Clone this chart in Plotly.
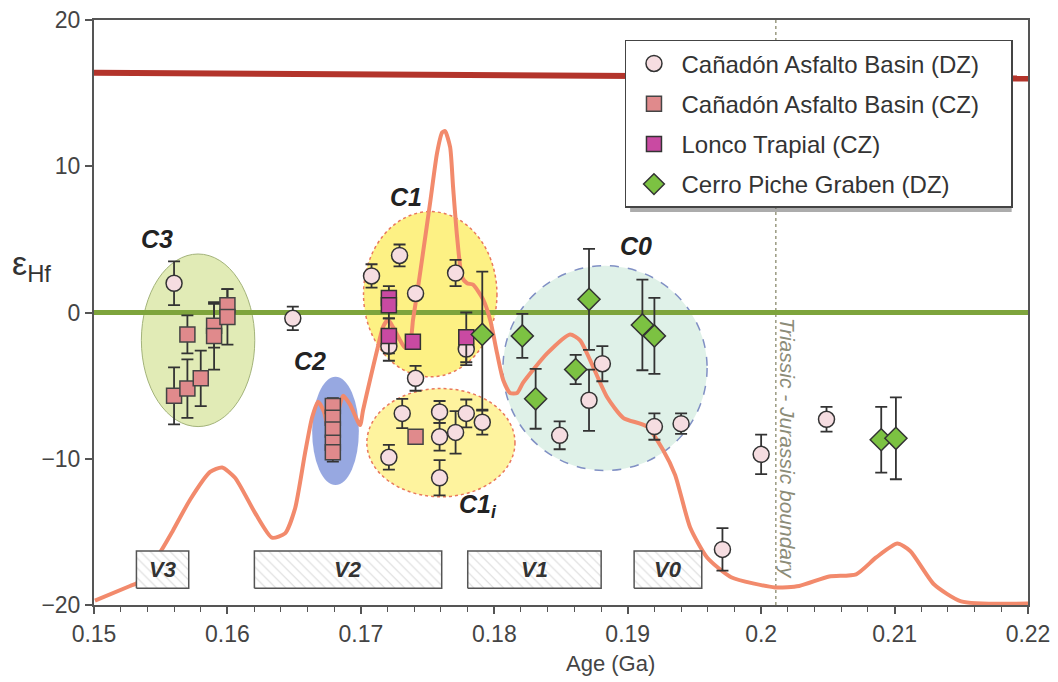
import plotly.graph_objects as go

# ---------------- data ----------------
# KDE (probability density, scaled to epsilon-Hf axis)
kde_age = [0.15007, 0.1527, 0.15322, 0.15495, 0.15592, 0.1572, 0.1587, 0.1596, 0.16057, 0.16207,
           0.16334, 0.16432, 0.16507, 0.16582, 0.16634, 0.16679, 0.16724, 0.16769, 0.16814, 0.16867,
           0.16919, 0.16994, 0.17016, 0.17069, 0.17121, 0.17166, 0.17204, 0.17241, 0.17294, 0.17331,
           0.17369, 0.17391, 0.17429, 0.17466, 0.17519, 0.17571, 0.17609, 0.17631, 0.17669, 0.17691,
           0.17721, 0.17759, 0.17796, 0.17841, 0.17916, 0.17969, 0.18021, 0.18066, 0.18118, 0.18171,
           0.18216, 0.18396, 0.18568, 0.18643, 0.18718, 0.18846, 0.18966, 0.19145, 0.19265, 0.19355,
           0.19468, 0.19595, 0.19775, 0.20105, 0.20285, 0.2051, 0.20712, 0.20862, 0.2102, 0.21117,
           0.21297, 0.21499, 0.22]
kde_val = [-19.7, -18.7, -18.5, -16.4, -14.9, -12.8, -10.9, -10.6, -11.3, -13.7,
           -15.4, -15.1, -13.4, -9.6, -7.2, -6.1, -6.8, -8.4, -7.4, -5.7,
           -6.3, -7.7, -6.7, -4.6, -2.6, -1.0, -0.5, -1.0, -1.9, -2.4,
           -2.1, -0.5, 1.75, 4.1, 7.5, 10.9, 12.3, 12.4, 11.3, 8.6,
           5.2, 2.4, 2.0, 1.9, 0.9, -0.5, -2.8, -4.6, -5.5, -5.5,
           -4.8, -2.8, -1.5, -1.9, -3.25, -5.8, -7.2, -7.8, -9.4, -11.1,
           -14.7, -16.75, -18.1, -18.8, -18.7, -18.05, -17.9, -16.75, -15.8, -16.3,
           -18.6, -19.75, -19.9]

# Depleted mantle and CHUR reference lines
dm_age = [0.15, 0.22]
dm_val = [16.4, 16.0]
chur_age = [0.15, 0.22]
chur_val = [0.0, 0.0]

# Cañadón Asfalto Basin (DZ)
dz_age = [0.1560, 0.1649, 0.1708, 0.1729, 0.1771, 0.1741, 0.1721, 0.1779, 0.1741, 0.1731,
          0.1721, 0.1759, 0.1759, 0.1771, 0.1779, 0.1791, 0.1759, 0.1849, 0.1871, 0.1881,
          0.1920, 0.1940, 0.1971, 0.2000, 0.2049]
dz_eps = [2.0, -0.4, 2.5, 3.9, 2.7, 1.3, -2.3, -2.5, -4.5, -6.9,
          -9.9, -6.8, -8.5, -8.2, -6.9, -7.5, -11.3, -8.4, -6.0, -3.5,
          -7.8, -7.6, -16.2, -9.7, -7.3]
dz_err = [1.5, 0.8, 0.8, 0.75, 0.9, 0.3, 1.0, 1.1, 0.85, 1.0,
          0.85, 0.75, 0.95, 1.45, 0.95, 0.85, 1.2, 0.95, 2.1, 1.2,
          0.9, 0.7, 1.45, 1.35, 0.85]

# Cañadón Asfalto Basin (CZ)
cz_age = [0.1570, 0.1560, 0.1570, 0.1580, 0.1590, 0.1590, 0.1600, 0.1600,
          0.1679, 0.1679, 0.1679, 0.1679, 0.1679, 0.1741]
cz_eps = [-1.5, -5.7, -5.2, -4.5, -0.9, -1.6, 0.5, -0.3,
          -6.4, -7.2, -8.0, -8.9, -9.55, -8.5]
cz_err = [1.3, 1.95, 2.0, 1.9, 1.5, 2.3, 1.1, 1.9,
          0.55, 0.4, 0.4, 0.4, 0.65, 0.4]

# Lonco Trapial (CZ)
lt_age = [0.1721, 0.1721, 0.1721, 0.1739, 0.1779]
lt_eps = [1.0, 0.5, -1.6, -2.0, -1.7]
lt_err = [0.8, 0.9, 1.2, 0.4, 1.7]

# Cerro Piche Graben (DZ)
cp_age = [0.1791, 0.1821, 0.1831, 0.1861, 0.1871, 0.1911, 0.1920, 0.2090, 0.2101]
cp_eps = [-1.5, -1.6, -5.9, -3.9, 0.9, -0.85, -1.6, -8.7, -8.6]
cp_err_plus = [4.3, 1.5, 2.05, 1.0, 3.45, 3.1, 2.6, 2.25, 2.8]
cp_err_minus = [5.2, 1.5, 2.05, 1.0, 3.45, 3.1, 2.6, 2.25, 2.8]

# Clusters (ellipses)
cl_names = ["C3", "C2", "C1", "C1i", "C0"]
cl_cx = [0.1578, 0.1681, 0.1752, 0.1760, 0.1883]
cl_cy = [-1.9, -8.1, 1.25, -8.9, -3.8]
cl_rx = [0.00425, 0.00175, 0.0050, 0.00555, 0.00765]
cl_ry = [5.9, 3.7, 5.65, 3.7, 7.0]
cl_label = ["<b><i>C3</i></b>", "<b><i>C2</i></b>", "<b><i>C1</i></b>", "<b><i>C1<sub>i</sub></i></b>", "<b><i>C0</i></b>"]
cl_lx = [0.1547, 0.1662, 0.1734, 0.1788, 0.1906]
cl_ly = [5.0, -3.3, 7.9, -13.2, 4.55]

# Volcanic episodes
v_names = ["V3", "V2", "V1", "V0"]
v_start = [0.15318, 0.16202, 0.17801, 0.19048]
v_end = [0.15710, 0.17606, 0.18801, 0.19555]
v_lo = -18.85
v_hi = -16.3

boundary_age = 0.2011

x_ticks = [0.15, 0.16, 0.17, 0.18, 0.19, 0.20, 0.21, 0.22]
x_ticktext = ["0.15", "0.16", "0.17", "0.18", "0.19", "0.2", "0.21", "0.22"]
y_ticks = [-20, -10, 0, 10, 20]

FONT = "Liberation Sans, Arial, sans-serif"
PAD = "\u00a0\u00a0\u00a0\u00a0"

# ---------------- figure ----------------
fig = go.Figure()

# ellipses
cl_fill = ["rgba(222,233,174,0.9)", "rgba(140,158,222,0.9)", "rgba(253,239,110,0.85)",
           "rgba(253,239,125,0.75)", "rgba(220,239,229,0.9)"]
cl_line = [dict(color="#a3b37a", width=1), dict(color="rgba(0,0,0,0)", width=0),
           dict(color="#e9785c", width=1.5, dash="dot"), dict(color="#e9785c", width=1.5, dash="dot"),
           dict(color="#8090c4", width=1.5, dash="dash")]
for i in range(len(cl_names)):
    fig.add_shape(type="circle", xref="x", yref="y", layer="below",
                  x0=cl_cx[i] - cl_rx[i], x1=cl_cx[i] + cl_rx[i],
                  y0=cl_cy[i] - cl_ry[i], y1=cl_cy[i] + cl_ry[i],
                  fillcolor=cl_fill[i], line=cl_line[i])

# boundary
fig.add_trace(go.Scatter(x=[boundary_age, boundary_age], y=[-20, 20], mode="lines",
                         line=dict(color="#9a9a80", width=1.5, dash="dot"),
                         showlegend=False, hoverinfo="skip"))

# reference lines
fig.add_trace(go.Scatter(x=dm_age, y=dm_val, mode="lines", line=dict(color="#b3342b", width=6),
                         showlegend=False, hoverinfo="skip"))
fig.add_trace(go.Scatter(x=chur_age, y=chur_val, mode="lines", line=dict(color="#7ea43c", width=5),
                         showlegend=False, hoverinfo="skip"))

# KDE curve
fig.add_trace(go.Scatter(x=kde_age, y=kde_val, mode="lines",
                         line=dict(color="#f28a6c", width=4, shape="spline", smoothing=0.6),
                         showlegend=False, hoverinfo="skip"))

# volcanic boxes
for i in range(len(v_names)):
    fig.add_trace(go.Scatter(
        x=[v_start[i], v_end[i], v_end[i], v_start[i], v_start[i]],
        y=[v_lo, v_lo, v_hi, v_hi, v_lo],
        mode="lines", fill="toself", fillcolor="white",
        fillpattern=dict(shape="\\", fgcolor="#b5b5b5", bgcolor="white", size=7, solidity=0.15),
        line=dict(color="#555555", width=1.5), showlegend=False, hoverinfo="skip"))
    fig.add_annotation(x=(v_start[i] + v_end[i]) / 2, y=(v_lo + v_hi) / 2,
                       text="<b><i>" + v_names[i] + "</i></b>", showarrow=False,
                       font=dict(family=FONT, size=22, color="#333333"))

err_style = dict(color="#333333", thickness=1.8, width=6)

fig.add_trace(go.Scatter(x=dz_age, y=dz_eps, mode="markers", name="Cañadón Asfalto Basin (DZ)" + PAD,
                         error_y=dict(type="data", array=dz_err, **err_style),
                         marker=dict(symbol="circle", size=16, color="#f6dde1", line=dict(color="#333333", width=1.5)),
                         legendgroup="a"))
fig.add_trace(go.Scatter(x=cz_age, y=cz_eps, mode="markers", name="Cañadón Asfalto Basin (CZ)" + PAD,
                         error_y=dict(type="data", array=cz_err, **err_style),
                         marker=dict(symbol="square", size=15, color="#e08a8c", line=dict(color="#444444", width=1.5)),
                         legendgroup="b"))
fig.add_trace(go.Scatter(x=lt_age, y=lt_eps, mode="markers", name="Lonco Trapial (CZ)",
                         error_y=dict(type="data", array=lt_err, **err_style),
                         marker=dict(symbol="square", size=15, color="#c94aa2", line=dict(color="#333333", width=1.5)),
                         legendgroup="c"))
fig.add_trace(go.Scatter(x=cp_age, y=cp_eps, mode="markers", name="Cerro Piche Graben (DZ)",
                         error_y=dict(type="data", symmetric=False, array=cp_err_plus, arrayminus=cp_err_minus, **err_style),
                         marker=dict(symbol="diamond", size=17, color="#7cc242", line=dict(color="#333333", width=1.5)),
                         legendgroup="d"))

# cluster labels
for i in range(len(cl_names)):
    fig.add_annotation(x=cl_lx[i], y=cl_ly[i], text=cl_label[i], showarrow=False,
                       font=dict(family=FONT, size=25, color="#222222"))

# boundary text
fig.add_annotation(x=boundary_age + 0.0009, y=-9.3, text="<i>Triassic - Jurassic boundary</i>",
                   textangle=90, showarrow=False,
                   font=dict(family=FONT, size=21, color="#8c8c78"))

# axis titles
fig.add_annotation(xref="paper", yref="paper", x=0.553, y=-0.10, text="Age (Ga)", showarrow=False,
                   xanchor="center", yanchor="middle",
                   font=dict(family=FONT, size=22, color="#444444"))
fig.add_annotation(xref="paper", yref="paper", x=-0.067, y=0.58, text="ε<sub>Hf</sub>", showarrow=False,
                   xanchor="center", yanchor="middle",
                   font=dict(family=FONT, size=34, color="#333333"))

# legend drop shadow (paper coords, sits just behind the legend box)
fig.add_shape(type="rect", xref="paper", yref="paper", layer="above",
              x0=0.574, x1=0.9825, y0=0.672, y1=0.957,
              fillcolor="rgba(90,90,90,0.5)", line=dict(width=0))

axis_font = dict(family=FONT, size=23, color="#444444")
fig.update_xaxes(range=[0.15, 0.22], tickvals=x_ticks, ticktext=x_ticktext, ticks="outside", ticklen=7,
                 tickwidth=1.5, tickcolor="#555555", showline=True, linecolor="#555555", linewidth=2,
                 mirror=True, showgrid=False, zeroline=False, tickfont=axis_font, automargin=False,
                 ticklabeloverflow="allow",
                 minor=dict(dtick=0.002, tick0=0.15, ticks="outside", ticklen=5, tickcolor="#555555", tickwidth=1.2))
fig.update_yaxes(range=[-20, 20], tickvals=y_ticks, ticks="outside", ticklen=7, tickwidth=1.5,
                 tickcolor="#555555", showline=True, linecolor="#555555", linewidth=2, mirror=True,
                 showgrid=False, zeroline=False, tickfont=axis_font, automargin=False,
                 ticklabeloverflow="allow")

fig.update_layout(
    width=1058, height=682,
    margin=dict(l=86, r=38, t=12, b=85),
    plot_bgcolor="white", paper_bgcolor="white",
    showlegend=True,
    legend=dict(x=0.5685, y=0.966, xanchor="left", yanchor="top", bgcolor="white",
                bordercolor="#444444", borderwidth=1.5, tracegroupgap=6, itemsizing="trace",
                itemwidth=45,
                font=dict(family=FONT, size=24, color="#333333")),
)

fig.write_html("out.html")
